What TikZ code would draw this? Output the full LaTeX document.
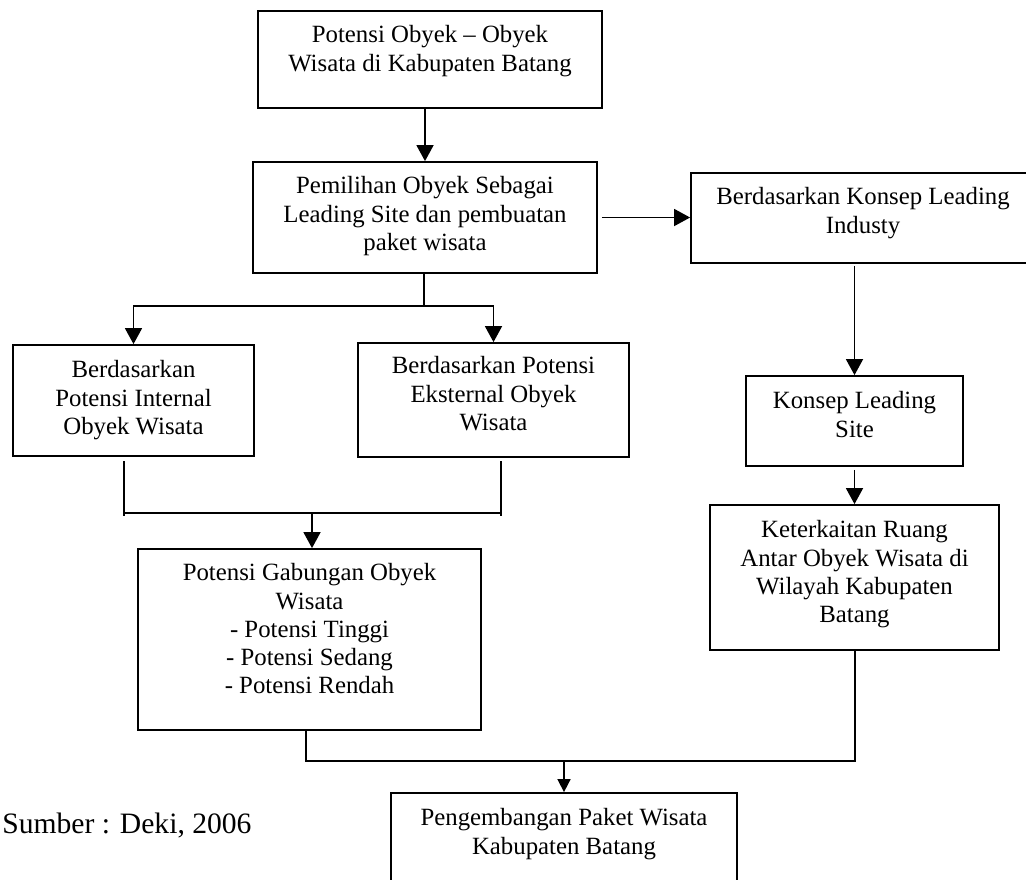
\documentclass[tikz,border=0pt]{standalone}
\usepackage{fontspec}
\setmainfont{Liberation Serif}
\usetikzlibrary{arrows.meta,fit}
\tikzset{
  box/.style={draw, line width=0.9pt, inner sep=0pt, rectangle},
  txt/.style={anchor=north, align=center, inner sep=0pt,
    font=\fontsize{12.4}{14.15}\selectfont,
    execute at begin node={\rule{0pt}{9pt}}},
  conn/.style={line width=0.8pt},
  arr/.style={line width=0.8pt, -{Triangle[length=8pt,width=8.5pt]}},
  sarr/.style={line width=0.8pt, -{Triangle[length=6.5pt,width=6.5pt]}}
}
\begin{document}
\begin{tikzpicture}[x=0.5pt,y=-0.5pt]
\useasboundingbox (0,0) rectangle (1026,879);
% boxes
\node[box, fit={(258,11) (602,108)}] (top) {};
\node[box, fit={(253,162) (597,273)}] (pem) {};
\node[box, fit={(691,173) (1035,263)}] (ind) {};
\node[box, fit={(13,345) (254,456)}] (left) {};
\node[box, fit={(358,343) (629,457)}] (mid) {};
\node[box, fit={(746,376) (963,466)}] (kon) {};
\node[box, fit={(710,505) (999,650)}] (ket) {};
\node[box, fit={(138,549) (481,730)}] (pot) {};
\node[box, fit={(391,793) (737,884)}] (bot) {};
% texts
\node[txt] (top-t) at ([yshift=-7.5pt]top.north) {Potensi Obyek -- Obyek\\Wisata di Kabupaten Batang};
\node[txt] (pem-t) at ([yshift=-7.5pt]pem.north) {Pemilihan Obyek Sebagai\\Leading Site dan pembuatan\\paket wisata};
\node[txt] (ind-t) at ([yshift=-7.5pt]ind.north) {Berdasarkan Konsep Leading\\Industy};
\node[txt] (left-t) at ([yshift=-8pt]left.north) {Berdasarkan\\Potensi Internal\\Obyek Wisata};
\node[txt] (mid-t) at ([yshift=-7pt]mid.north) {Berdasarkan Potensi\\Eksternal Obyek\\Wisata};
\node[txt] (kon-t) at ([yshift=-8pt]kon.north) {Konsep Leading\\Site};
\node[txt] (ket-t) at ([yshift=-8pt]ket.north) {Keterkaitan Ruang\\Antar Obyek Wisata di\\Wilayah Kabupaten\\Batang};
\node[txt] (pot-t) at ([yshift=-7.5pt]pot.north) {Potensi Gabungan Obyek\\Wisata\\- Potensi Tinggi\\- Potensi Sedang\\- Potensi Rendah};
\node[txt] (bot-t) at ([yshift=-8pt]bot.north) {Pengembangan Paket Wisata\\Kabupaten Batang};
\node[anchor=base west, inner sep=0pt, font=\fontsize{14.8}{17}\selectfont] (src) at (2,833) {Sumber : Deki, 2006};
% connectors
\draw[arr] (top.south -| pem.north) -- (pem.north);
\draw[arr, shorten <=2pt] (pem.east) -- (pem.east -| ind.west);
\coordinate (sp) at (424,306);
\draw[conn] (pem.south -| sp) -- (sp);
\draw[arr] (sp) -| (left.north);
\draw[arr] (sp) -| (mid.north);
\coordinate (jl) at (124,461);
\coordinate (jlb) at (124,516);
\coordinate (jr) at (501,461);
\coordinate (jrb) at (501,516);
\coordinate (jbl) at (124,513);
\coordinate (jbr) at (501,513);
\coordinate (jm) at (312,513);
\draw[conn] (jl) -- (jlb);
\draw[conn] (jr) -- (jrb);
\draw[conn] (jbl) -- (jbr);
\draw[arr] (jm) -- (jm |- pot.north);
\draw[arr, shorten <=1pt] (kon.north |- ind.south) -- (kon.north);
\draw[arr, shorten <=1.5pt] (kon.south) -- (ket.north -| kon.south);
\coordinate (pb) at (306,761);
\coordinate (kb) at (855,761);
\draw[conn] (pb |- pot.south) -- (pb) -- (kb) -- (kb |- ket.south);
\draw[sarr] (bot.north |- pb) -- (bot.north);
\end{tikzpicture}
\end{document}
